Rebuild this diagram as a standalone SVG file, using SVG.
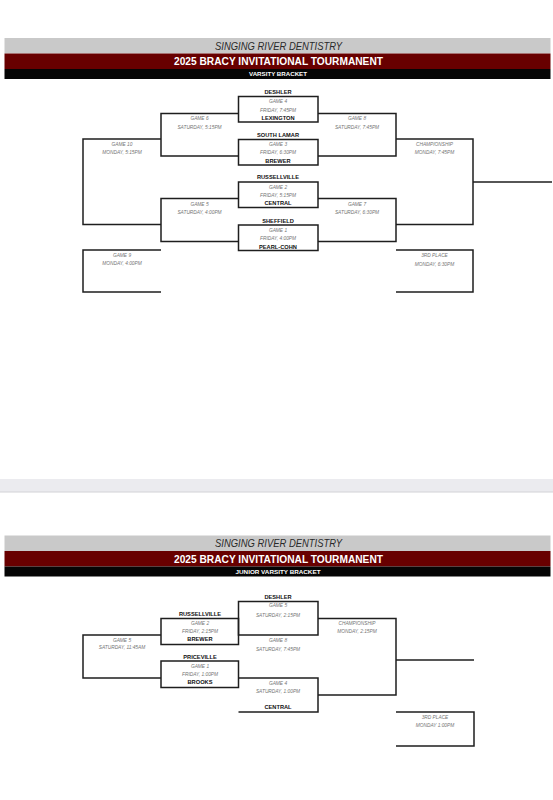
<svg xmlns="http://www.w3.org/2000/svg" width="553" height="800" viewBox="0 0 553 800">
<style>
.bg{fill:#ffffff}
.hgray{fill:#c9c9c9}
.hred{fill:#680000}
.hblack{fill:#050505}
.sponsor{font-family:"Liberation Sans",Arial,sans-serif;font-style:italic;font-size:10px;fill:#2a2a2a;text-anchor:middle}
.title{font-family:"Liberation Sans",Arial,sans-serif;font-weight:bold;font-size:10.5px;fill:#ffffff;text-anchor:middle}
.sub{font-family:"Liberation Sans",Arial,sans-serif;font-weight:bold;font-size:5.4px;fill:#ffffff;text-anchor:middle}
.box{fill:none;stroke:#1e1e1e;stroke-width:1.5}
.line{fill:none;stroke:#1e1e1e;stroke-width:1.5}
.team{font-family:"Liberation Sans",Arial,sans-serif;font-weight:bold;font-size:5.7px;fill:#111111;text-anchor:middle}
.info{font-family:"Liberation Sans",Arial,sans-serif;font-style:italic;font-size:4.8px;fill:#757575;text-anchor:middle}
.sep{fill:#ebebef}
.sepline{stroke:#d2d2d6;stroke-width:1}
</style>
<rect class="bg" x="0" y="0" width="553" height="800"/>

<!-- Varsity header -->
<g id="header-varsity">
<rect class="hgray" x="4.5" y="38" width="546" height="15.5"/>
<rect class="hred" x="4.5" y="53.5" width="546" height="15.5"/>
<rect class="hblack" x="4.5" y="69" width="546" height="10"/>
<text class="sponsor" x="278.5" y="49.8" textLength="127" lengthAdjust="spacingAndGlyphs">SINGING RIVER DENTISTRY</text>
<text class="title" x="278.5" y="65.2" textLength="209" lengthAdjust="spacingAndGlyphs">2025 BRACY INVITATIONAL TOURMANENT</text>
<text class="sub" x="278" y="76" textLength="58" lengthAdjust="spacingAndGlyphs">VARSITY BRACKET</text>
</g>

<!-- Varsity connectors -->
<g id="connectors-varsity">
<path class="line" d="M238.5,113.5 H161 V156 H238.5"/>
<path class="line" d="M238.5,198.5 H161 V241.5 H238.5"/>
<path class="line" d="M161,139 H83 V224.5 H161"/>
<path class="line" d="M161,250 H83 V292 H161"/>
<path class="line" d="M318,113.5 H396 V156 H318"/>
<path class="line" d="M318,198.5 H396 V241.5 H318"/>
<path class="line" d="M396,139 H473 V224.5 H396"/>
<path class="line" d="M473,182 H552"/>
<path class="line" d="M396,250 H473 V292 H396"/>
</g>

<!-- Varsity first-round games -->
<g id="v-game4">
<rect class="box" x="238.5" y="96.5" width="79.5" height="25.5"/>
<text class="team" x="278" y="93.8">DESHLER</text>
<text class="info" x="278" y="103.4">GAME 4</text>
<text class="info" x="278" y="111.7">FRIDAY, 7:45PM</text>
<text class="team" x="278" y="120.4">LEXINGTON</text>
</g>
<g id="v-game3">
<rect class="box" x="238.5" y="139.5" width="79.5" height="25.5"/>
<text class="team" x="278" y="137.1">SOUTH LAMAR</text>
<text class="info" x="278" y="146">GAME 3</text>
<text class="info" x="278" y="154.4">FRIDAY, 6:30PM</text>
<text class="team" x="278" y="162.8">BREWER</text>
</g>
<g id="v-game2">
<rect class="box" x="238.5" y="182" width="79.5" height="25.5"/>
<text class="team" x="278" y="179.4">RUSSELLVILLE</text>
<text class="info" x="278" y="189">GAME 2</text>
<text class="info" x="278" y="196.7">FRIDAY, 5:15PM</text>
<text class="team" x="278" y="205.4">CENTRAL</text>
</g>
<g id="v-game1">
<rect class="box" x="238.5" y="225" width="79.5" height="25.5"/>
<text class="team" x="278" y="222.8">SHEFFIELD</text>
<text class="info" x="278" y="232.4">GAME 1</text>
<text class="info" x="278" y="240">FRIDAY, 4:00PM</text>
<text class="team" x="278" y="248.8">PEARL-COHN</text>
</g>

<!-- Varsity later games -->
<g id="v-game6">
<text class="info" x="199.5" y="120.2">GAME 6</text>
<text class="info" x="199.5" y="129.4">SATURDAY, 5:15PM</text>
</g>
<g id="v-game5">
<text class="info" x="199.5" y="206">GAME 5</text>
<text class="info" x="199.5" y="214.4">SATURDAY, 4:00PM</text>
</g>
<g id="v-game10">
<text class="info" x="122" y="146">GAME 10</text>
<text class="info" x="122" y="154.4">MONDAY, 5:15PM</text>
</g>
<g id="v-game9">
<text class="info" x="122" y="256.7">GAME 9</text>
<text class="info" x="122" y="265">MONDAY, 4:00PM</text>
</g>
<g id="v-game8">
<text class="info" x="357" y="120.2">GAME 8</text>
<text class="info" x="357" y="129.4">SATURDAY, 7:45PM</text>
</g>
<g id="v-game7">
<text class="info" x="357" y="206">GAME 7</text>
<text class="info" x="357" y="214.4">SATURDAY, 6:30PM</text>
</g>
<g id="v-championship">
<text class="info" x="434.5" y="146">CHAMPIONSHIP</text>
<text class="info" x="434.5" y="154.4">MONDAY, 7:45PM</text>
</g>
<g id="v-3rd">
<text class="info" x="434.5" y="257.4">3RD PLACE</text>
<text class="info" x="434.5" y="265.7">MONDAY, 6:30PM</text>
</g>

<!-- Separator -->
<g id="separator">
<rect class="sep" x="0" y="479" width="553" height="13"/>
<line class="sepline" x1="0" y1="492" x2="553" y2="492"/>
</g>

<!-- JV header -->
<g id="header-jv">
<rect class="hgray" x="4.5" y="535.5" width="546" height="15.5"/>
<rect class="hred" x="4.5" y="551" width="546" height="15.5"/>
<rect class="hblack" x="4.5" y="566.5" width="546" height="10"/>
<text class="sponsor" x="278.5" y="547.3" textLength="127" lengthAdjust="spacingAndGlyphs">SINGING RIVER DENTISTRY</text>
<text class="title" x="278.5" y="562.7" textLength="209" lengthAdjust="spacingAndGlyphs">2025 BRACY INVITATIONAL TOURMANENT</text>
<text class="sub" x="278" y="573.5" textLength="85" lengthAdjust="spacingAndGlyphs">JUNIOR VARSITY BRACKET</text>
</g>

<!-- JV connectors -->
<g id="connectors-jv">
<path class="line" d="M161,635 H83 V678 H161"/>
<path class="line" d="M238.5,678 H318 V712 H238.5"/>
<path class="line" d="M318,618.5 H396 V695 H318"/>
<path class="line" d="M396,660 H474"/>
<path class="line" d="M396,712 H474 V746 H396"/>
</g>

<g id="jv-game5-sat">
<rect class="box" x="238.5" y="601.5" width="79.5" height="33.5"/>
<text class="team" x="278" y="598.8">DESHLER</text>
<text class="info" x="278" y="607.4">GAME 5</text>
<text class="info" x="278" y="616.7">SATURDAY, 2:15PM</text>
</g>
<g id="jv-game2">
<rect class="box" x="161" y="618.5" width="77.5" height="26"/>
<text class="team" x="200" y="616.1">RUSSELLVILLE</text>
<text class="info" x="200" y="625">GAME 2</text>
<text class="info" x="200" y="633.4">FRIDAY, 2:15PM</text>
<text class="team" x="200" y="641.4">BREWER</text>
</g>
<g id="jv-game1">
<rect class="box" x="161" y="661" width="77.5" height="26.5"/>
<text class="team" x="200" y="658.8">PRICEVILLE</text>
<text class="info" x="200" y="667.7">GAME 1</text>
<text class="info" x="200" y="675.7">FRIDAY, 1:00PM</text>
<text class="team" x="200" y="684.4">BROOKS</text>
</g>
<g id="jv-game8">
<text class="info" x="278" y="642.4">GAME 8</text>
<text class="info" x="278" y="650.7">SATURDAY, 7:45PM</text>
</g>
<g id="jv-game4">
<text class="info" x="278" y="685">GAME 4</text>
<text class="info" x="278" y="693.4">SATURDAY, 1:00PM</text>
<text class="team" x="278" y="709.4">CENTRAL</text>
</g>
<g id="jv-game5-left">
<text class="info" x="122" y="641.7">GAME 5</text>
<text class="info" x="122" y="649.4">SATURDAY, 11:45AM</text>
</g>
<g id="jv-championship">
<text class="info" x="357" y="625">CHAMPIONSHIP</text>
<text class="info" x="357" y="633.4">MONDAY, 2:15PM</text>
</g>
<g id="jv-3rd">
<text class="info" x="435" y="719">3RD PLACE</text>
<text class="info" x="435" y="727.4">MONDAY 1:00PM</text>
</g>
</svg>
